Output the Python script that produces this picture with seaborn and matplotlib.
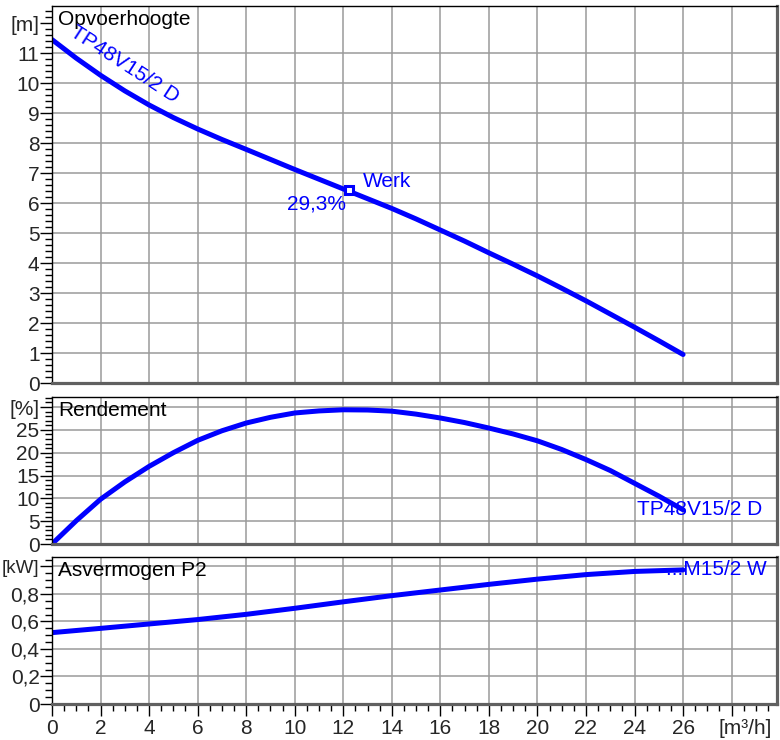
import seaborn as sns
import matplotlib.pyplot as plt
import matplotlib.ticker as mticker
import pandas as pd

# pump curves
q_head = list(range(0, 27))
head = [11.45, 10.83, 10.26, 9.74, 9.27, 8.85, 8.47, 8.12, 7.79, 7.455, 7.12, 6.795, 6.47, 6.145, 5.82, 5.47,
        5.1, 4.73, 4.34, 3.96, 3.57, 3.16, 2.74, 2.3, 1.86, 1.41, 0.95]

q_eff = list(range(0, 27))
eff = [0, 5.1, 9.8, 13.6, 17.0, 20.0, 22.7, 24.8, 26.5, 27.75, 28.7, 29.15, 29.4, 29.35, 29.1, 28.45, 27.6, 26.6,
       25.4, 24.1, 22.6, 20.7, 18.5, 16.1, 13.3, 10.5, 7.5]

q_pow = [0, 2, 4, 6, 8, 10, 12, 14, 16, 18, 20, 22, 24, 26]
power = [0.519, 0.55, 0.582, 0.614, 0.652, 0.696, 0.743, 0.788, 0.829, 0.87, 0.908, 0.941, 0.964, 0.975]

duty_q, duty_h = 12.25, 6.43

head_ticks = list(range(0, 13))
head_labels = [str(v) for v in range(0, 12)] + ['[m]']
eff_ticks = list(range(0, 35, 5))
eff_labels = ['0', '5', '10', '15', '20', '25', '[%]']
pow_ticks = [0, 0.2, 0.4, 0.6, 0.8, 1.0]
pow_labels = ['0', '0,2', '0,4', '0,6', '0,8', '[kW]']
q_ticks = list(range(0, 30, 2))
q_labels = [str(v) for v in range(0, 28, 2)] + ['']

sns.set_style("white")
plt.rcParams['font.family'] = ['Liberation Sans', 'DejaVu Sans']
FS = 15
BLUE = '#0000ff'

fig = plt.figure(figsize=(7.8, 7.4), dpi=100)


def panel(top, bottom):
    return fig.add_axes([52 / 780, 1 - bottom / 740, 725 / 780, (bottom - top) / 740])


ax1 = panel(6, 383)
ax2 = panel(397, 544)
ax3 = panel(557, 704)

setup = [
    (ax1, head_ticks, head_labels, 0.2, 12.57, 'Opvoerhoogte'),
    (ax2, eff_ticks, eff_labels, 1, 32.2, 'Rendement'),
    (ax3, pow_ticks, pow_labels, 0.05, 1.069, 'Asvermogen P2'),
]
for ax, yt, yl, ymin, ytop, title in setup:
    ax.set_xlim(0, 29.87)
    ax.set_ylim(0, ytop)
    ax.set_xticks(q_ticks)
    ax.xaxis.set_minor_locator(mticker.MultipleLocator(0.5))
    ax.set_yticks(yt)
    ax.set_yticklabels(yl)
    ax.yaxis.set_minor_locator(mticker.MultipleLocator(ymin))
    ax.grid(True, which='major', color='#9a9a9a', lw=1.1)
    ax.set_axisbelow(True)
    for s in ['top', 'left']:
        ax.spines[s].set_color('black')
        ax.spines[s].set_linewidth(1.0)
    for s in ['bottom', 'right']:
        ax.spines[s].set_color('#606060')
        ax.spines[s].set_linewidth(2.3)
    ax.tick_params(axis='y', which='major', direction='out', length=8.5, width=1, color='black',
                   labelsize=FS, pad=0.5, left=True)
    ax.tick_params(axis='y', which='minor', direction='out', length=5, width=1, color='black', left=True)
    ax.text(0.008, 1 - 4 / ax.bbox.height, title, transform=ax.transAxes, ha='left', va='top',
            fontsize=FS, color='black')

for ax in (ax1, ax2):
    ax.tick_params(axis='x', which='both', bottom=False, labelbottom=False)
ax1.get_ygridlines()[-1].set_visible(False)
ax3.get_yticklabels()[-1].set_fontsize(13.5)

ax3.set_xticklabels(q_labels)
ax3.tick_params(axis='x', which='major', direction='out', length=8.5, width=1, color='black',
                labelsize=FS, pad=2, bottom=True)
ax3.tick_params(axis='x', which='minor', direction='out', length=5, width=1, color='black', bottom=True)
ax3.annotate('[m³/h]', xy=(28.55, 0), xycoords=('data', 'axes fraction'), xytext=(0, -10.5),
             textcoords='offset points', ha='center', va='top', fontsize=FS)

df_h = pd.DataFrame({'Q': q_head, 'H': head})
df_e = pd.DataFrame({'Q': q_eff, 'E': eff})
df_p = pd.DataFrame({'Q': q_pow, 'P': power})

sns.lineplot(data=df_h, x='Q', y='H', ax=ax1, color=BLUE, lw=3.6, solid_capstyle='round')
sns.lineplot(data=df_e, x='Q', y='E', ax=ax2, color=BLUE, lw=3.6, solid_capstyle='round')
sns.lineplot(data=df_p, x='Q', y='P', ax=ax3, color=BLUE, lw=3.6, solid_capstyle='round')
for ax in (ax1, ax2, ax3):
    ax.set_xlabel('')
    ax.set_ylabel('')

# duty point
ax1.plot(duty_q, duty_h, marker='s', ms=5.5, mfc='white', mec=BLUE, mew=2.2, zorder=5)
ax1.text(12.8, 6.73, 'Werk', color=BLUE, fontsize=FS, ha='left', va='center')
ax1.text(12.1, 5.97, '29,3%', color=BLUE, fontsize=FS, ha='right', va='center')

# curve labels
ax1.text(3.0, 10.62, 'TP48V15/2 D', color=BLUE, fontsize=FS, ha='center', va='center',
         rotation=-33, rotation_mode='anchor')
ax2.text(24.1, 7.5, 'TP48V15/2 D', color=BLUE, fontsize=FS, ha='left', va='center')
ax3.text(25.3, 0.975, '...M15/2 W', color=BLUE, fontsize=FS, ha='left', va='center')

fig.savefig('out.png', dpi=100)
